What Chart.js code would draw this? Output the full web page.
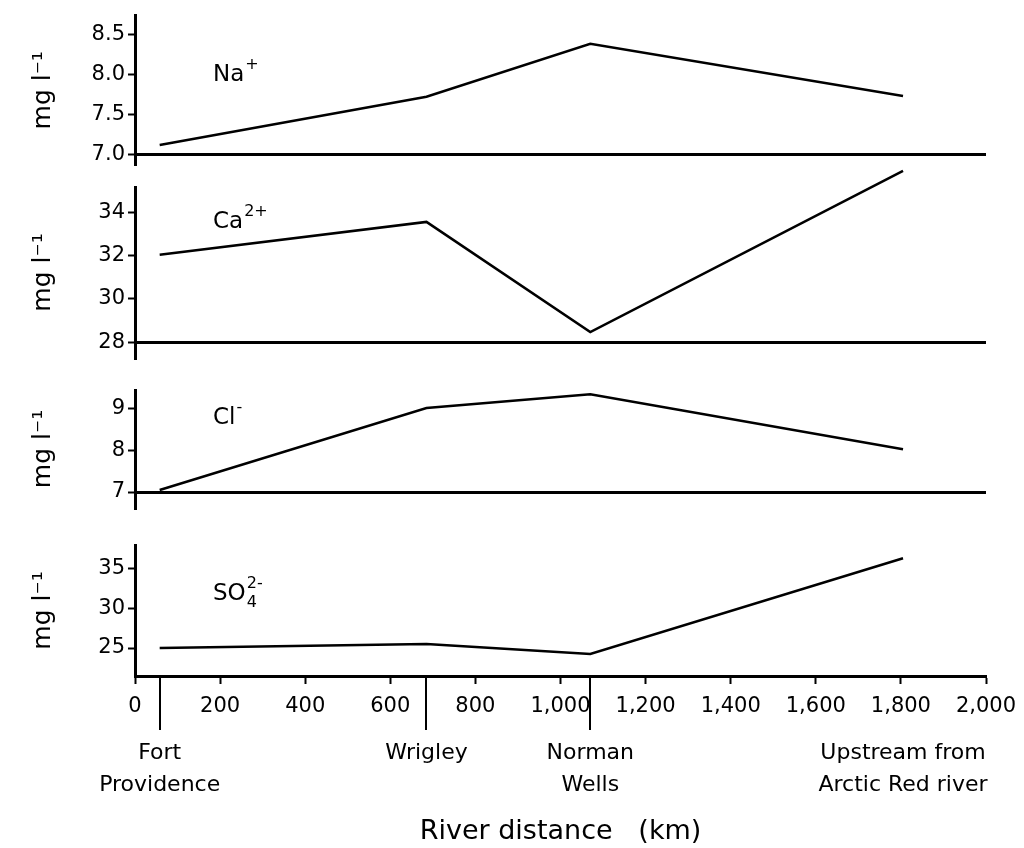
<!DOCTYPE html>
<html>
<head>
<meta charset="utf-8">
<title>Major ions along the river</title>
<script src="https://cdn.jsdelivr.net/npm/chart.js@4/dist/chart.umd.min.js"></script>
<style>
  html, body { margin: 0; padding: 0; background: #fff; }
  #wrap { position: relative; width: 1024px; height: 848px; }
  #wrap canvas { position: absolute; left: 0; top: 0; }
</style>
</head>
<body>
<div id="wrap">
  <canvas id="na" width="1024" height="848"></canvas>
  <canvas id="ca" width="1024" height="848"></canvas>
  <canvas id="cl" width="1024" height="848"></canvas>
  <canvas id="so4" width="1024" height="848"></canvas>
</div>
<script>
// sampling sites, river distance in km
const siteKm = [58, 685, 1070, 1805];
const siteNames = [['Fort', 'Providence'], 'Wrigley', ['Norman', 'Wells'], ['Upstream from', 'Arctic Red river']];
const siteMarked = [true, true, true, false];

// concentrations, mg/l
const sodium = [7.12, 7.72, 8.38, 7.73];
const calcium = [32.05, 33.58, 28.46, 35.95];
const chloride = [7.05, 9.0, 9.33, 8.02];
const sulphate = [25.0, 25.5, 24.25, 36.25];

// axis ticks
const naTicks = [7.0, 7.5, 8.0, 8.5];
const caTicks = [28, 30, 32, 34];
const clTicks = [7, 8, 9];
const so4Ticks = [25, 30, 35];
const kmTicks = [0, 200, 400, 600, 800, 1000, 1200, 1400, 1600, 1800, 2000];

const FONT = 'DejaVu Sans';
const PAD_LEFT = 28;
const AXIS_W = 107;

// ion name drawn inside each panel, with stacked super/subscripts
const ionLabel = {
    id: 'ionLabel',
    afterDatasetsDraw(chart, args, opts) {
        if (!opts.base) return;
        const { ctx, chartArea } = chart;
        const x = chartArea.left + 78;
        const y = chartArea.top + opts.dy;
        ctx.save();
        ctx.fillStyle = '#000';
        ctx.textBaseline = 'middle';
        ctx.font = `23px "${FONT}"`;
        ctx.fillText(opts.base, x, y);
        const w = ctx.measureText(opts.base).width;
        ctx.font = `16px "${FONT}"`;
        if (opts.sup) ctx.fillText(opts.sup, x + w + 1, y - 10);
        if (opts.sub) ctx.fillText(opts.sub, x + w + 1, y + 9);
        ctx.restore();
    }
};

// long ticks under the distance axis at the named sites
const siteMarks = {
    id: 'siteMarks',
    afterDraw(chart, args, opts) {
        if (!opts.show) return;
        const { ctx, chartArea, scales: { x } } = chart;
        ctx.save();
        ctx.strokeStyle = '#000';
        ctx.lineWidth = 2;
        siteKm.forEach((km, i) => {
            if (!siteMarked[i]) return;
            const px = Math.round(x.getPixelForValue(km));
            ctx.beginPath();
            ctx.moveTo(px, chartArea.bottom);
            ctx.lineTo(px, chartArea.bottom + 54);
            ctx.stroke();
        });
        ctx.restore();
    }
};

// keep the plot width identical in every panel
function fixHeight(h) {
    return s => {
        s.height = h;
        s.paddingLeft = 0;
        s.paddingRight = 0;
    };
}

const panels = [
    { id: 'na', values: sodium, ticks: naTicks, dec: 1, min: 6.87, max: 8.73, base: 7,
      pad: { top: 10, bottom: 683 }, ion: { base: 'Na', sup: '+', dy: 59 } },
    { id: 'ca', values: calcium, ticks: caTicks, dec: 0, min: 27.26, max: 35.2, base: 28,
      pad: { top: 187, bottom: 490 }, ion: { base: 'Ca', sup: '2+', dy: 35 } },
    { id: 'cl', values: chloride, ticks: clTicks, dec: 0, min: 6.62, max: 9.43, base: 7,
      pad: { top: 390, bottom: 340 }, ion: { base: 'Cl', sup: '-', dy: 28 } },
    { id: 'so4', values: sulphate, ticks: so4Ticks, dec: 0, min: 21.5, max: 37.9, base: null,
      pad: { top: 545, bottom: 0 }, ion: { base: 'SO', sup: '2-', sub: '4', dy: 49 }, bottomAxis: true }
];

function buildScales(p) {
    const y = {
        min: p.min,
        max: p.max,
        afterBuildTicks: s => { s.ticks = p.ticks.map(v => ({ value: v })); },
        afterFit: s => { s.width = AXIS_W; },
        border: { display: true, color: '#000', width: 3 },
        grid: {
            drawOnChartArea: p.base !== null,
            color: c => (c.tick && c.tick.value === p.base) ? '#000' : 'rgba(0,0,0,0)',
            lineWidth: 3,
            tickColor: '#000',
            tickWidth: 2,
            tickLength: 7
        },
        ticks: {
            color: '#000',
            font: { family: FONT, size: 21 },
            padding: 3,
            callback: v => v.toFixed(p.dec)
        },
        title: {
            display: true,
            text: 'mg l⁻¹',
            color: '#000',
            font: { family: FONT, size: 25 },
            padding: 0
        }
    };

    if (!p.bottomAxis) {
        return { x: { type: 'linear', min: 0, max: 2000, display: false }, y };
    }

    return {
        x: {
            type: 'linear', min: 0, max: 2000, position: 'bottom', weight: 0,
            afterBuildTicks: s => { s.ticks = kmTicks.map(v => ({ value: v })); },
            afterFit: fixHeight(50),
            border: { display: true, color: '#000', width: 3 },
            grid: { drawOnChartArea: false, tickColor: '#000', tickWidth: 2, tickLength: 8 },
            ticks: {
                color: '#000',
                font: { family: FONT, size: 21 },
                padding: 10,
                maxRotation: 0,
                autoSkip: false,
                callback: v => v.toLocaleString('en-US')
            }
        },
        site: {
            type: 'linear', min: 0, max: 2000, position: 'bottom', weight: 1,
            afterBuildTicks: s => { s.ticks = siteKm.map(v => ({ value: v })); },
            afterFit: fixHeight(122),
            border: { display: false },
            grid: { display: false },
            ticks: {
                color: '#000',
                font: { family: FONT, size: 22, lineHeight: 1.45 },
                padding: 3,
                maxRotation: 0,
                autoSkip: false,
                callback: (v, i) => siteNames[i]
            },
            title: {
                display: true,
                text: 'River distance   (km)',
                color: '#000',
                font: { family: FONT, size: 27 },
                padding: { top: 0, bottom: 0 }
            }
        },
        y
    };
}

panels.forEach(p => {
    new Chart(document.getElementById(p.id), {
        type: 'line',
        data: {
            datasets: [{
                data: siteKm.map((km, i) => ({ x: km, y: p.values[i] })),
                borderColor: '#000',
                borderWidth: 2.5,
                pointRadius: 0,
                tension: 0,
                clip: false
            }]
        },
        options: {
            responsive: false,
            animation: false,
            devicePixelRatio: 1,
            layout: { padding: { left: PAD_LEFT, right: 38, top: p.pad.top, bottom: p.pad.bottom } },
            scales: buildScales(p),
            plugins: {
                legend: { display: false },
                tooltip: { enabled: false },
                ionLabel: p.ion,
                siteMarks: { show: !!p.bottomAxis }
            }
        },
        plugins: [ionLabel, siteMarks]
    });
});
</script>
</body>
</html>
